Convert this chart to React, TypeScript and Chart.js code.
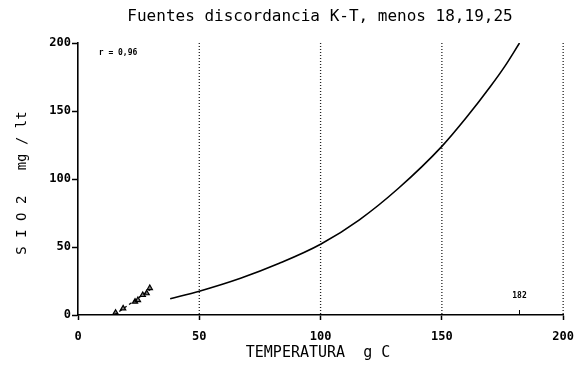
import React, { useEffect, useRef } from "react";
import { Chart, registerables } from "chart.js";

Chart.register(...registerables);

const titleText = "Fuentes discordancia K-T, menos 18,19,25";
const xTitle = "TEMPERATURA  g C";
const yTitle = "S I O 2   mg / lt";
const rText = "r = 0,96";
const markerLabel = "182";
const markerValue = 182;

const xTicks = [0, 50, 100, 150, 200];
const yTicks = [0, 50, 100, 150, 200];
const gridValues = [50, 100, 150, 200];

const curveT = [38, 50, 67, 83, 100, 116, 132, 150, 160, 170, 176, 182];
const curveS = [12, 17.5, 27, 38, 52, 70, 93, 124, 145, 168, 183, 200];

const pointsT = [15.5, 18.6, 23.5, 24.7, 26.7, 28.3, 29.6];
const pointsS = [1.7, 4.9, 9.8, 11, 14.7, 16, 19.8];

const fitT = [15, 30];
const fitS = [0, 19];

const MONO = "'DejaVu Sans Mono', monospace";

export default function App() {
  const ref = useRef<HTMLCanvasElement | null>(null);

  useEffect(() => {
    if (!ref.current) return;
    const textPlugin = {
      id: "texts",
      beforeDatasetsDraw(chart: any) {
        const { ctx, chartArea, scales } = chart;
        ctx.save();
        ctx.strokeStyle = "#222";
        ctx.lineWidth = 1.3;
        ctx.setLineDash([1, 2]);
        gridValues.forEach((v) => {
          const x = scales.x.getPixelForValue(v);
          ctx.beginPath();
          ctx.moveTo(x, chartArea.top);
          ctx.lineTo(x, chartArea.bottom);
          ctx.stroke();
        });
        ctx.restore();
      },
      afterDraw(chart: any) {
        const { ctx, chartArea, scales } = chart;
        ctx.save();
        ctx.fillStyle = "#000";
        ctx.textAlign = "center";
        ctx.textBaseline = "middle";
        ctx.font = `16px ${MONO}`;
        ctx.fillText(titleText, 320, 17);
        ctx.font = `15px ${MONO}`;
        ctx.fillText(xTitle, 318, 353);
        ctx.save();
        ctx.translate(22, 183);
        ctx.rotate(-Math.PI / 2);
        ctx.font = `14px ${MONO}`;
        ctx.fillText(yTitle, 0, 0);
        ctx.restore();
        ctx.font = `bold 8px ${MONO}`;
        ctx.fillText(rText, scales.x.getPixelForValue(16.5), scales.y.getPixelForValue(192.5));
        const mx = scales.x.getPixelForValue(markerValue);
        ctx.fillText(markerLabel, mx, chartArea.bottom - 19);
        ctx.strokeStyle = "#000";
        ctx.lineWidth = 1;
        ctx.beginPath();
        ctx.moveTo(mx, chartArea.bottom);
        ctx.lineTo(mx, chartArea.bottom - 5);
        ctx.stroke();
        ctx.restore();
      },
    };

    const chart = new Chart(ref.current, {
      type: "scatter",
      data: {
        datasets: [
          {
            data: curveT.map((t, i) => ({ x: t, y: curveS[i] })),
            showLine: true,
            borderColor: "#000",
            borderWidth: 1.6,
            pointRadius: 0,
            cubicInterpolationMode: "monotone",
          },
          {
            data: fitT.map((t, i) => ({ x: t, y: fitS[i] })),
            showLine: true,
            borderColor: "#000",
            borderWidth: 1.3,
            borderDash: [3, 3],
            pointRadius: 0,
          },
          {
            data: pointsT.map((t, i) => ({ x: t, y: pointsS[i] })),
            showLine: false,
            pointStyle: "triangle",
            pointRadius: 3,
            borderColor: "#000",
            backgroundColor: "rgba(0,0,0,0.5)",
            borderWidth: 1.2,
          },
        ],
      } as any,
      options: {
        animation: false,
        responsive: false,
        layout: { padding: { top: 43, right: 20, left: 0, bottom: 0 } },
        plugins: { legend: { display: false }, tooltip: { enabled: false }, title: { display: false } },
        scales: {
          x: {
            type: "linear",
            min: 0,
            max: 200,
            afterBuildTicks: (s: any) => {
              s.ticks = xTicks.map((v) => ({ value: v }));
            },
            afterFit: (s: any) => {
              s.height = 53;
            },
            ticks: { color: "#000", font: { family: MONO, size: 12, weight: "bold" }, padding: 10 },
            grid: { drawOnChartArea: false, drawTicks: true, tickLength: 5, tickColor: "#000", tickWidth: 1.5 },
            border: { display: true, color: "#000", width: 1.6 },
          },
          y: {
            type: "linear",
            min: 0,
            max: 200,
            afterBuildTicks: (s: any) => {
              s.ticks = yTicks.map((v) => ({ value: v }));
            },
            afterFit: (s: any) => {
              s.width = 78;
            },
            ticks: { color: "#000", font: { family: MONO, size: 12, weight: "bold" }, padding: 1 },
            grid: { drawOnChartArea: false, drawTicks: true, tickLength: 6, tickColor: "#000", tickWidth: 1.5 },
            border: { display: true, color: "#000", width: 1.6 },
          },
        },
      } as any,
      plugins: [textPlugin],
    });
    return () => chart.destroy();
  }, []);

  return (
    <div style={{ position: "absolute", left: 0, top: 0, width: 584, height: 368, background: "#fff" }}>
      <canvas ref={ref} width={584} height={368} />
    </div>
  );
}
